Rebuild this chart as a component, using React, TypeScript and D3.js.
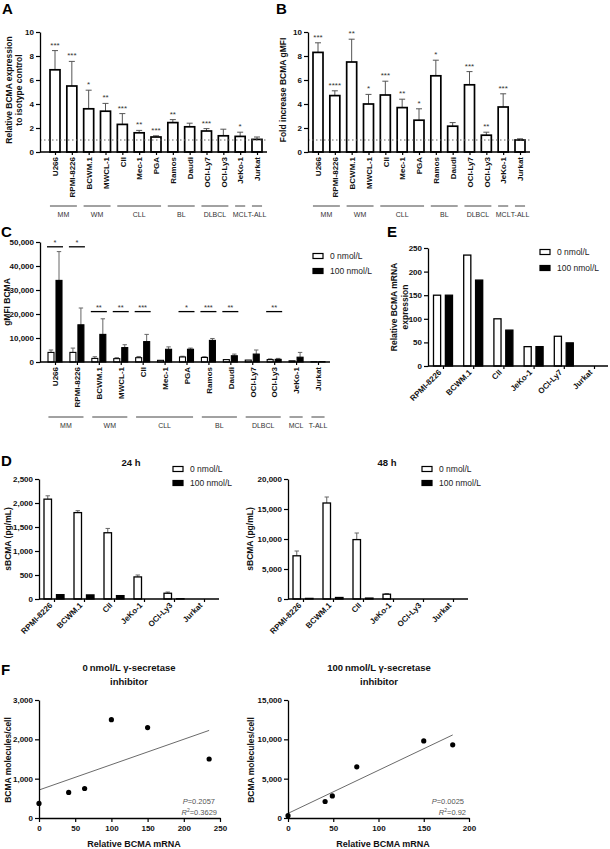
import React, { useEffect, useRef } from "react";
import * as d3 from "d3";

const FONT = "'Liberation Sans', Arial, Helvetica, sans-serif";

// ---------- Panels A / B / C ----------
const cellLines = ["U266","RPMI-8226","BCWM.1","MWCL-1","CII","Mec-1","PGA","Ramos","Daudi","OCI-Ly7","OCI-Ly3","JeKo-1","Jurkat"];
const groupNames = ["MM","WM","CLL","BL","DLBCL","MCL","T-ALL"];
const groupFirst = ["U266","BCWM.1","CII","Ramos","OCI-Ly7","JeKo-1","Jurkat"];
const groupLast = ["RPMI-8226","MWCL-1","PGA","Daudi","OCI-Ly3","JeKo-1","Jurkat"];

const relExprMean = [6.85,5.5,3.6,3.4,2.3,1.6,1.25,2.45,2.1,1.75,1.35,1.3,1.05];
const relExprSD = [1.6,2.05,1.55,0.65,0.9,0.2,0.1,0.25,0.3,0.2,0.55,0.35,0.2];
const relExprStars = ["***","***","*","**","***","**","***","**","","***","","*",""];
const relExprTicks = [0,2,4,6,8,10];

const foldMean = [8.3,4.7,7.5,4.0,4.75,3.7,2.65,6.35,2.15,5.6,1.4,3.75,1.0];
const foldSD = [0.8,0.4,1.9,0.8,1.15,0.7,0.95,1.3,0.3,1.1,0.25,1.1,0.1];
const foldStars = ["***","****","**","*","***","**","*","*","","***","**","***",""];

const gmfi0Mean = [4000,4000,1500,1400,1800,700,2100,1900,1000,800,1000,500,100];
const gmfi0SD = [1000,1800,700,400,500,200,300,300,200,200,300,200,50];
const gmfi100Mean = [34000,15500,11500,6000,8500,5300,5300,9000,2600,3300,1100,2000,150];
const gmfi100SD = [12000,7000,6500,1200,3000,1000,500,800,700,1700,400,2000,50];
const gmfiStars = ["*","*","**","**","***","","*","***","**","","**","",""];
const gmfiSigLevel = [48000,48000,21000,21000,21000,0,21000,21000,21000,0,21000,0,0];
const gmfiTicks = [0,10000,20000,30000,40000,50000];

const doseLabels = ["0 nmol/L","100 nmol/L"];

// ---------- Panel D ----------
const sCells = ["RPMI-8226","BCWM.1","CII","JeKo-1","OCI-Ly3","Jurkat"];
const s24Mean0 = [2080,1800,1380,460,120,0];
const s24SD0 = [70,40,90,40,25,0];
const s24Mean100 = [90,85,70,0,5,0];
const s24SD100 = [10,10,10,0,0,0];
const s24Ticks = [0,500,1000,1500,2000,2500];
const s48Mean0 = [7200,16000,9900,800,0,0];
const s48SD0 = [800,1000,1100,100,0,0];
const s48Mean100 = [100,250,150,0,0,0];
const s48SD100 = [0,0,0,0,0,0];
const s48Ticks = [0,5000,10000,15000,20000];

// ---------- Panel E ----------
const mCells = ["RPMI-8226","BCWM.1","CII","JeKo-1","OCI-Ly7","Jurkat"];
const mrna0 = [150,235,100,41,63,0];
const mrna100 = [150,182,76,41,49,0];
const mrnaTicks = [0,50,100,150,200,250];

// ---------- Panel F ----------
const fMrna0 = [0,41,63,100,150,235];
const fMol0 = [370,650,750,2500,2300,1500];
const fMrna100 = [0,41,49,76,150,182];
const fMol100 = [300,2100,2800,6500,9800,9300];
const fX0Ticks = [0,50,100,150,200,250];
const fY0Ticks = [0,1000,2000,3000];
const fX100Ticks = [0,50,100,150,200];
const fY100Ticks = [0,5000,10000,15000];
const fStats0 = ["0.2057","0.3629"];
const fStats100 = ["0.0025","0.92"];

type Sel = d3.Selection<SVGGElement, unknown, null, undefined>;

function styleAxis(a: any, fs = 8) {
  a.attr("font-family", null).attr("font-size", null);
  a.select(".domain").attr("stroke", "#000").attr("stroke-width", 1.3);
  a.selectAll(".tick line").attr("stroke", "#000").attr("stroke-width", 1.2);
  a.selectAll(".tick text").attr("font-family", FONT).attr("font-size", fs)
    .attr("font-weight", "bold").attr("fill", "#111");
}

function yAxis(g: Sel, y: any, x0: number, ticks: number[], fmt: (n: number) => string) {
  const a = g.append("g").attr("transform", `translate(${x0},0)`)
    .call(d3.axisLeft(y).tickValues(ticks).tickSize(4).tickSizeOuter(0).tickPadding(2).tickFormat(fmt as any));
  styleAxis(a);
}

function xCatAxis(g: Sel, x: any, y0: number, xs: number, xe: number, rot: number) {
  g.append("line").attr("x1", xs).attr("x2", xe).attr("y1", y0).attr("y2", y0)
    .attr("stroke", "#000").attr("stroke-width", 1.3);
  const a = g.append("g").attr("transform", `translate(0,${y0})`)
    .call(d3.axisBottom(x).tickSize(3).tickSizeOuter(0));
  a.select(".domain").remove();
  styleAxis(a);
  if (rot === -90) {
    a.selectAll(".tick text").attr("transform", "rotate(-90)").attr("text-anchor", "end")
      .attr("x", -5).attr("y", 0).attr("dy", "0.35em");
  } else {
    a.selectAll(".tick text").attr("transform", "rotate(-45)").attr("text-anchor", "end")
      .attr("x", -6).attr("y", 1).attr("dy", "0.35em");
  }
}

function yTitle(g: Sel, lines: string[], xs: number[], cy: number, fs = 8.5) {
  lines.forEach((t, i) => {
    g.append("text").attr("transform", `translate(${xs[i]},${cy}) rotate(-90)`)
      .attr("text-anchor", "middle").attr("font-family", FONT).attr("font-size", fs)
      .attr("font-weight", "bold").attr("fill", "#111").text(t);
  });
}

function letter(g: Sel, t: string, x: number, y: number) {
  g.append("text").attr("x", x).attr("y", y).attr("font-family", FONT).attr("font-size", 15)
    .attr("font-weight", "bold").attr("fill", "#000").text(t);
}

function legend(g: Sel, x: number, y: number, gap = 15) {
  doseLabels.forEach((t, i) => {
    g.append("rect").attr("x", x).attr("y", y + i * gap - 2.5).attr("width", 10).attr("height", 5)
      .attr("fill", i === 0 ? "#fff" : "#000").attr("stroke", "#000").attr("stroke-width", 1.2);
    g.append("text").attr("x", x + 17).attr("y", y + i * gap + 3).attr("font-family", FONT)
      .attr("font-size", 8.5).attr("fill", "#222").text(t);
  });
}

function errBar(g: Sel, cx: number, yFrom: number, yTo: number, cap: number, color = "#555") {
  if (yFrom - yTo < 0.5) return;
  g.append("line").attr("x1", cx).attr("x2", cx).attr("y1", yFrom).attr("y2", yTo)
    .attr("stroke", color).attr("stroke-width", 1);
  g.append("line").attr("x1", cx - cap).attr("x2", cx + cap).attr("y1", yTo).attr("y2", yTo)
    .attr("stroke", color).attr("stroke-width", 1);
}

function groupsUnder(g: Sel, x: any, step: number, yLine: number, yText: number) {
  groupNames.forEach((nm, i) => {
    const a = x(groupFirst[i]) - step * 0.3;
    const b = x(groupLast[i]) + step * 0.3;
    g.append("line").attr("x1", a).attr("x2", b).attr("y1", yLine).attr("y2", yLine)
      .attr("stroke", "#444").attr("stroke-width", 1);
    g.append("text").attr("x", (a + b) / 2).attr("y", yText).attr("text-anchor", "middle")
      .attr("font-family", FONT).attr("font-size", 7).attr("fill", "#333").text(nm);
  });
}

function singleBars(svg: Sel, mean: number[], sd: number[], stars: string[], ax0: number, ax1: number, c0: number, c1: number) {
  const g = svg.append("g");
  const x = d3.scalePoint<string>().domain(cellLines).range([c0, c1]);
  const y = d3.scaleLinear().domain([0, 10]).range([152, 32]);
  const bw = 10;
  cellLines.forEach((c, i) => {
    const cx = x(c)!;
    errBar(g, cx, y(mean[i]), y(mean[i] + sd[i]), 3);
  });
  g.selectAll("rect.bar").data(cellLines).join("rect").attr("class", "bar")
    .attr("x", (d) => x(d)! - bw / 2).attr("y", (d, i) => y(mean[i]))
    .attr("width", bw).attr("height", (d, i) => y(0) - y(mean[i]))
    .attr("fill", "#fff").attr("stroke", "#000").attr("stroke-width", 1.7);
  g.append("line").attr("x1", ax0).attr("x2", ax1).attr("y1", y(1)).attr("y2", y(1))
    .attr("stroke", "#666").attr("stroke-width", 1).attr("stroke-dasharray", "1.5,2.5");
  cellLines.forEach((c, i) => {
    if (!stars[i]) return;
    g.append("text").attr("x", x(c)!).attr("y", y(mean[i] + sd[i]) - 3).attr("text-anchor", "middle")
      .attr("font-family", FONT).attr("font-size", 8).attr("fill", "#333").text(stars[i]);
  });
  yAxis(g, y, ax0, relExprTicks, d3.format("d"));
  xCatAxis(g, x, y(0), ax0, ax1, -90);
  groupsUnder(g, x, x.step(), 206, 217);
  return g;
}

function pairedBars(g: Sel, cats: string[], x: any, y: any, m0: number[], s0: number[], m1: number[], s1: number[], half: number, pad: number, sw: number) {
  const sub = d3.scaleBand<string>().domain(["0", "100"]).range([-half, half]).paddingInner(pad);
  const bw = sub.bandwidth();
  const series = [{ k: "0", m: m0, s: s0 }, { k: "100", m: m1, s: s1 }];
  series.forEach((ser) => {
    cats.forEach((c, i) => {
      const cx = x(c) + sub(ser.k)! + bw / 2;
      errBar(g, cx, y(ser.m[i]), y(ser.m[i] + ser.s[i]), 2.2, "#666");
    });
    g.selectAll(`rect.s${ser.k}`).data(cats).join("rect").attr("class", `s${ser.k}`)
      .attr("x", (d) => x(d) + sub(ser.k)!).attr("y", (d, i) => y(ser.m[i]))
      .attr("width", bw).attr("height", (d, i) => Math.max(0, y(0) - y(ser.m[i])))
      .attr("fill", ser.k === "0" ? "#fff" : "#000").attr("stroke", "#000").attr("stroke-width", sw);
  });
}

export default function App() {
  const ref = useRef<SVGSVGElement>(null);
  useEffect(() => {
    const svg = d3.select(ref.current!) as any;
    svg.selectAll("*").remove();
    const root: Sel = svg.append("g");

    // ---- A ----
    letter(root, "A", 2, 14);
    singleBars(root, relExprMean, relExprSD, relExprStars, 40, 267, 55, 257);
    yTitle(root, ["Relative BCMA expression", "to isotype control"], [12, 22], 90);

    // ---- B ----
    letter(root, "B", 276, 14);
    singleBars(root, foldMean, foldSD, foldStars, 308, 530, 318, 520);
    yTitle(root, ["Fold increase BCMA gMFI"], [286], 90);

    // ---- C ----
    {
      const g = root.append("g");
      letter(g, "C", 1, 237);
      const x = d3.scalePoint<string>().domain(cellLines).range([55, 318]);
      const y = d3.scaleLinear().domain([0, 50000]).range([362, 242]);
      pairedBars(g, cellLines, x, y, gmfi0Mean, gmfi0SD, gmfi100Mean, gmfi100SD, 7, 0.25, 1.1);
      cellLines.forEach((c, i) => {
        if (!gmfiStars[i]) return;
        const cx = x(c)!;
        g.append("line").attr("x1", cx - 8).attr("x2", cx + 8).attr("y1", y(gmfiSigLevel[i])).attr("y2", y(gmfiSigLevel[i]))
          .attr("stroke", "#000").attr("stroke-width", 1.3);
        g.append("text").attr("x", cx).attr("y", y(gmfiSigLevel[i]) - 1.5).attr("text-anchor", "middle")
          .attr("font-family", FONT).attr("font-size", 7.5).attr("fill", "#333").text(gmfiStars[i]);
      });
      yAxis(g, y, 40, gmfiTicks, d3.format(","));
      xCatAxis(g, x, y(0), 40, 330, -90);
      groupsUnder(g, x, x.step(), 417, 428);
      yTitle(g, ["gMFI BCMA"], [10], 302);
      legend(g, 313, 256);
    }

    // ---- E ----
    {
      const g = root.append("g");
      letter(g, "E", 387, 237);
      const x = d3.scalePoint<string>().domain(mCells).range([443, 594]);
      const y = d3.scaleLinear().domain([0, 250]).range([366, 248]);
      const zeros = mCells.map(() => 0);
      pairedBars(g, mCells, x, y, mrna0, zeros, mrna100, zeros, 9.5, 0.4, 1.3);
      yAxis(g, y, 428, mrnaTicks, d3.format("d"));
      xCatAxis(g, x, y(0), 428, 608, -45);
      yTitle(g, ["Relative BCMA mRNA", "expression"], [397, 408], 307);
      legend(g, 540, 252, 16);
    }

    // ---- D ----
    const dPanel = (ax0: number, top: number, ticks: number[], m0: number[], s0: number[], m1: number[], s1: number[], title: string, titleX: number, titleLines: number, legX: number) => {
      const g = root.append("g");
      const x = d3.scaleBand<string>().domain(sCells).range([ax0, ax0 + 180]);
      const xc = (c: string) => x(c)! + x.bandwidth() / 2;
      const y = d3.scaleLinear().domain([0, top]).range([599, 479]);
      pairedBars(g, sCells, xc, y, m0, s0, m1, s1, 10, 0.4, 1.3);
      yAxis(g, y, ax0, ticks, d3.format(","));
      const xp = d3.scalePoint<string>().domain(sCells).range([xc(sCells[0]), xc(sCells[sCells.length - 1])]);
      xCatAxis(g, xp, 599, ax0, ax0 + 180, -45);
      yTitle(g, ["sBCMA (pg/mL)"], [titleLines], 539);
      g.append("text").attr("x", titleX).attr("y", 466).attr("text-anchor", "middle").attr("font-family", FONT)
        .attr("font-size", 9.5).attr("font-weight", "bold").attr("fill", "#111").text(title);
      legend(g, legX, 469, 14);
    };
    letter(root, "D", 1, 466);
    dPanel(39, 2500, s24Ticks, s24Mean0, s24SD0, s24Mean100, s24SD100, "24 h", 131, 11, 173);
    dPanel(288, 20000, s48Ticks, s48Mean0, s48SD0, s48Mean100, s48SD100, "48 h", 387, 253, 422);

    // ---- F ----
    const fPanel = (ax0: number, xMax: number, yMax: number, xt: number[], yt: number[], xs: number[], ys: number[], stats: string[], titleLines: string[], titleY: number, cx: number) => {
      const g = root.append("g");
      const x = d3.scaleLinear().domain([0, xMax]).range([ax0, ax0 + 181]);
      const y = d3.scaleLinear().domain([0, yMax]).range([818, 700]);
      const mx = d3.mean(xs)!, my = d3.mean(ys)!;
      const sxy = d3.sum(xs.map((v, i) => (v - mx) * (ys[i] - my)));
      const sxx = d3.sum(xs.map((v) => (v - mx) ** 2));
      const slope = sxy / sxx, icpt = my - slope * mx;
      const xe = d3.max(xs)!;
      g.append("line").attr("x1", x(0)).attr("y1", y(icpt)).attr("x2", x(xe)).attr("y2", y(icpt + slope * xe))
        .attr("stroke", "#444").attr("stroke-width", 0.8);
      g.selectAll("circle").data(xs).join("circle").attr("cx", (d) => x(d)).attr("cy", (d, i) => y(ys[i]))
        .attr("r", 2.6).attr("fill", "#000");
      const ya = g.append("g").attr("transform", `translate(${ax0},0)`)
        .call(d3.axisLeft(y).tickValues(yt).tickSize(4).tickSizeOuter(0).tickPadding(2).tickFormat(d3.format(",") as any));
      styleAxis(ya);
      const xa = g.append("g").attr("transform", `translate(0,818)`)
        .call(d3.axisBottom(x).tickValues(xt).tickSize(4).tickSizeOuter(0).tickPadding(3).tickFormat(d3.format("d") as any));
      styleAxis(xa);
      yTitle(g, ["BCMA molecules/cell"], [titleY], 760);
      g.append("text").attr("x", ax0 + 95).attr("y", 847).attr("text-anchor", "middle").attr("font-family", FONT)
        .attr("font-size", 9).attr("font-weight", "bold").attr("fill", "#111").text("Relative BCMA mRNA");
      titleLines.forEach((t, i) => {
        g.append("text").attr("x", cx).attr("y", 671 + i * 14).attr("text-anchor", "middle").attr("font-family", FONT)
          .attr("font-size", 9.5).attr("font-weight", "bold").attr("fill", "#111").text(t);
      });
      const t1 = g.append("text").attr("x", ax0 + 176).attr("y", 804).attr("text-anchor", "end")
        .attr("font-family", FONT).attr("font-size", 7.5).attr("fill", "#555");
      t1.append("tspan").attr("font-style", "italic").text("P");
      t1.append("tspan").text("=" + stats[0]);
      const t2 = g.append("text").attr("x", ax0 + 178).attr("y", 815).attr("text-anchor", "end")
        .attr("font-family", FONT).attr("font-size", 7.5).attr("fill", "#555");
      t2.append("tspan").attr("font-style", "italic").text("R");
      t2.append("tspan").attr("font-size", 5).attr("dy", -3).text("2");
      t2.append("tspan").attr("dy", 3).text("=" + stats[1]);
    };
    letter(root, "F", 1, 675);
    fPanel(39, 250, 3000, fX0Ticks, fY0Ticks, fMrna0, fMol0, fStats0, ["0\u2009nmol/L γ-secretase", "inhibitor"], 11, 129);
    fPanel(288, 200, 15000, fX100Ticks, fY100Ticks, fMrna100, fMol100, fStats100, ["100\u2009nmol/L γ-secretase", "inhibitor"], 254, 379);
  }, []);
  return (
    <svg ref={ref} width={610} height={849}
      style={{ position: "absolute", left: 0, top: 0, background: "#fff" }} />
  );
}
